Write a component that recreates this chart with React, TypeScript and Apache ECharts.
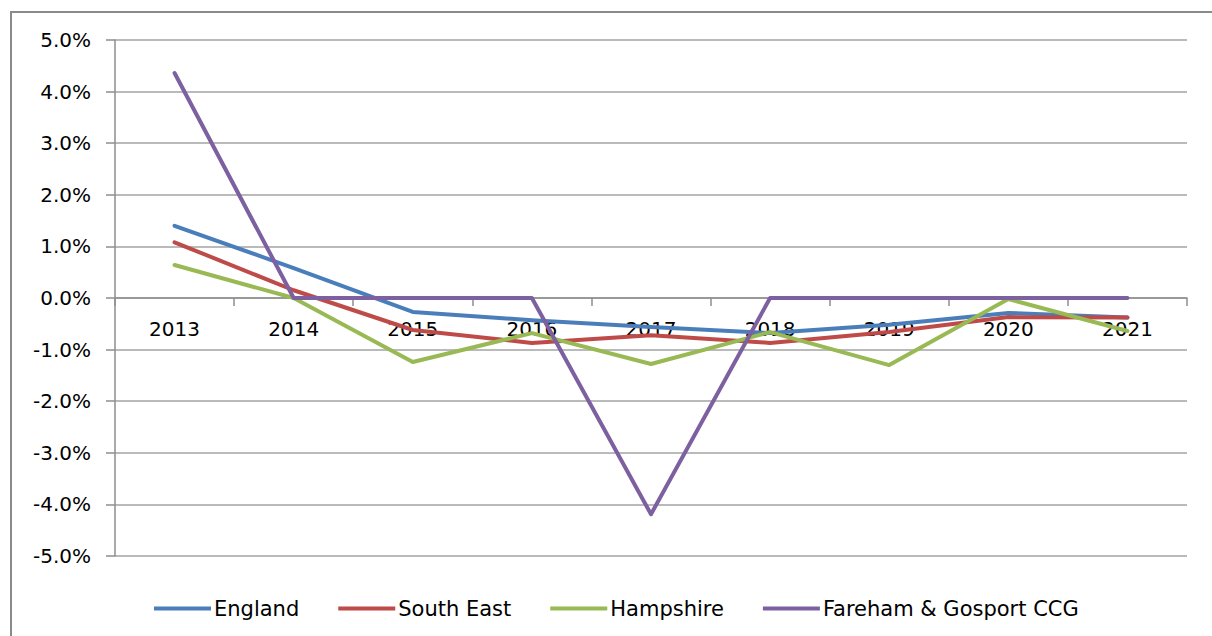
import React, { useEffect, useRef } from "react";
import * as echarts from "echarts";

const years = ["2013", "2014", "2015", "2016", "2017", "2018", "2019", "2020", "2021"];
const england = [1.4, 0.58, -0.27, -0.43, -0.56, -0.68, -0.52, -0.29, -0.38];
const southEast = [1.08, 0.15, -0.62, -0.87, -0.72, -0.87, -0.66, -0.37, -0.38];
const hampshire = [0.64, 0.0, -1.24, -0.68, -1.28, -0.66, -1.3, -0.02, -0.64];
const fareham = [4.36, 0.0, 0.0, 0.0, -4.19, 0.0, 0.0, 0.0, 0.0];

const seriesNames = ["England", "South East", "Hampshire", "Fareham & Gosport CCG"];
const seriesColors = ["#4A7EBB", "#BE4B48", "#98B954", "#7D60A0"];
const seriesData = [england, southEast, hampshire, fareham];

const FONT = "DejaVu Sans";
const GRID_TOP = 40;
const GRID_BOTTOM = 80;
const CHART_H = 636;
const Y_MIN = -5;
const Y_MAX = 5;

export default function App() {
  const ref = useRef<HTMLDivElement>(null);
  useEffect(() => {
    document.body.style.margin = "0";
    const chart = echarts.init(ref.current!, null, { renderer: "svg" });
    const plotH = CHART_H - GRID_TOP - GRID_BOTTOM;
    const zeroOffset = -(plotH * (0 - Y_MIN)) / (Y_MAX - Y_MIN);
    chart.setOption({
      animation: false,
      backgroundColor: "#ffffff",
      textStyle: { fontFamily: FONT },
      grid: { left: 115, right: 25, top: GRID_TOP, bottom: GRID_BOTTOM },
      graphic: [
        {
          type: "rect",
          shape: { x: 11, y: 12, width: 1230, height: 660 },
          style: { fill: "none", stroke: "#8a8a8a", lineWidth: 2 },
          silent: true,
        },
      ],
      legend: {
        left: 149,
        top: 593,
        icon: "rect",
        itemWidth: 57,
        itemHeight: 4,
        itemGap: 39,
        textStyle: { fontFamily: FONT, fontSize: 21, color: "#000", padding: [0, 0, 0, -2] },
        data: seriesNames,
      },
      xAxis: {
        type: "category",
        data: years,
        boundaryGap: true,
        position: "bottom",
        offset: zeroOffset,
        axisLine: { onZero: false, lineStyle: { color: "#8e8e8e", width: 1.5 } },
        axisTick: { show: true, length: 8, lineStyle: { color: "#8e8e8e", width: 1.5 } },
        axisLabel: { fontFamily: FONT, fontSize: 20, color: "#000", margin: 21 },
        splitLine: { show: false },
      },
      yAxis: {
        type: "value",
        min: Y_MIN,
        max: Y_MAX,
        interval: 1,
        axisLine: { show: true, lineStyle: { color: "#8e8e8e", width: 1.5 } },
        axisTick: { show: true, length: 9, lineStyle: { color: "#8e8e8e", width: 1.5 } },
        axisLabel: {
          fontFamily: FONT,
          fontSize: 20,
          color: "#000",
          margin: 24,
          formatter: (v: number) => v.toFixed(1) + "%",
        },
        splitLine: { show: true, lineStyle: { color: "#a3a3a3", width: 1.5 } },
      },
      series: seriesData.map((d, i) => ({
        name: seriesNames[i],
        type: "line",
        data: d,
        symbol: "none",
        showSymbol: false,
        color: seriesColors[i],
        lineStyle: { color: seriesColors[i], width: 4, cap: "round", join: "round" },
        z: 2 + i,
      })),
    });
    return () => chart.dispose();
  }, []);
  return <div ref={ref} style={{ width: 1212, height: 636 }} />;
}
